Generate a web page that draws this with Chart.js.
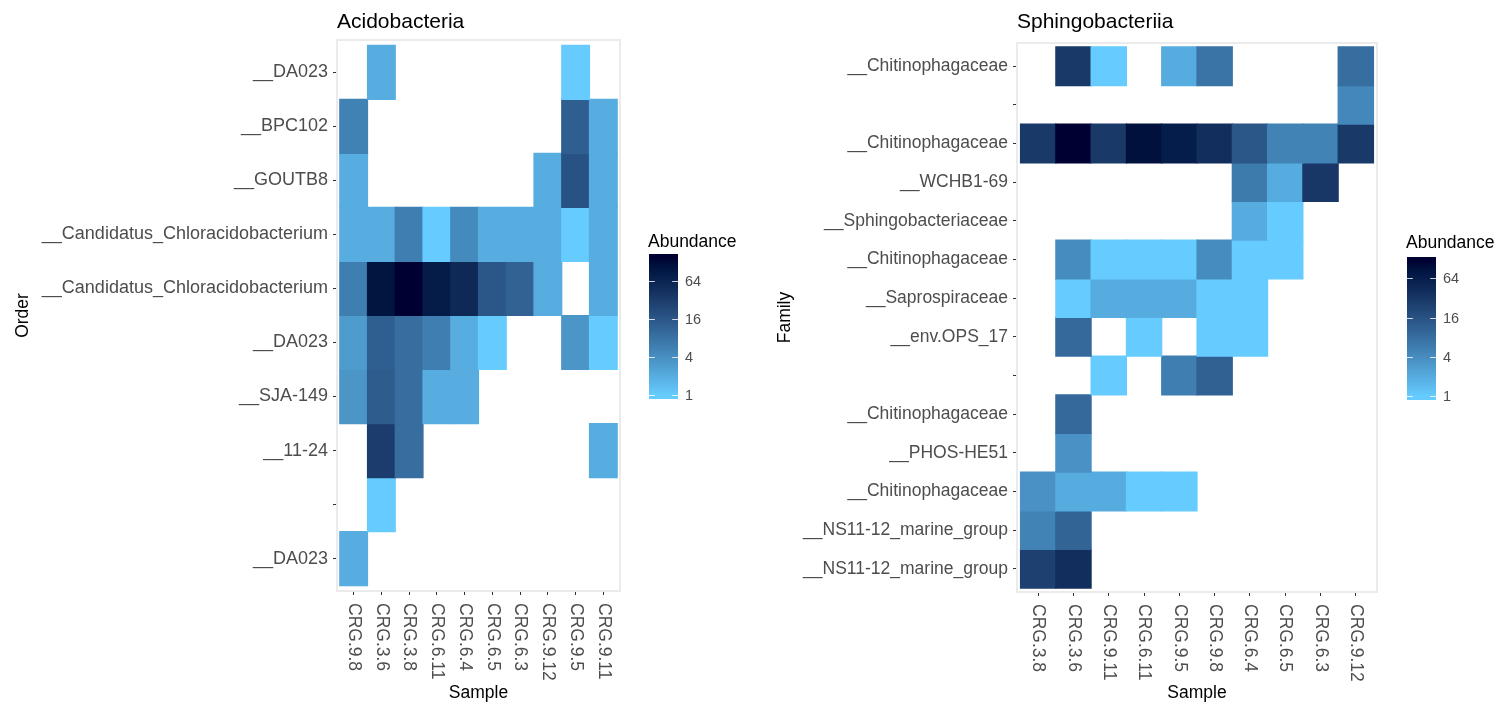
<!DOCTYPE html>
<html><head><meta charset="utf-8">
<script src="https://cdn.jsdelivr.net/npm/chart.js@4/dist/chart.umd.min.js"></script>
<style>
html,body{margin:0;padding:0;background:#fff;}
#wrap{position:relative;width:1506px;height:713px;overflow:hidden;}
canvas{position:absolute;top:0;}
</style>
</head><body>
<div id="wrap">
<canvas id="c1" width="753" height="713" style="left:0"></canvas>
<canvas id="c2" width="753" height="713" style="left:753px"></canvas>
</div>
<script>
// ---------------- data ----------------
const acidoSamples = ['CRG.9.8','CRG.3.6','CRG.3.8','CRG.6.11','CRG.6.4','CRG.6.5','CRG.6.3','CRG.9.12','CRG.9.5','CRG.9.11'];
const acidoOrders = ['__DA023','__BPC102','__GOUTB8','__Candidatus_Chloracidobacterium','__Candidatus_Chloracidobacterium','__DA023','__SJA-149','__11-24','','__DA023'];
const acidoAbundance = [
  [null, 2,   null, null, null, null, null, null, 1,    null],
  [5.5,  null,null, null, null, null, null, null, 13,   2   ],
  [2,    null,null, null, null, null, null, 2,    18,   2   ],
  [2,    2,   6,    1,    4.5,  2,    2,    2,    1,    2   ],
  [6,    100, 150,  80,   55,   16,   12,   2,    null, 2   ],
  [3,    13,  9,    6,    2,    1,    null, null, 3.5,  1   ],
  [3.5,  14,  9,    2,    2,    null, null, null, null, null],
  [null, 32,  9,    null, null, null, null, null, null, 2   ],
  [null, 1,   null, null, null, null, null, null, null, null],
  [2,    null,null, null, null, null, null, null, null, null]
];
const sphingoSamples = ['CRG.3.8','CRG.3.6','CRG.9.11','CRG.6.11','CRG.9.5','CRG.9.8','CRG.6.4','CRG.6.5','CRG.6.3','CRG.9.12'];
const sphingoFamilies = ['__Chitinophagaceae','','__Chitinophagaceae','__WCHB1-69','__Sphingobacteriaceae','__Chitinophagaceae','__Saprospiraceae','__env.OPS_17','','__Chitinophagaceae','__PHOS-HE51','__Chitinophagaceae','__NS11-12_marine_group','__NS11-12_marine_group'];
const sphingoAbundance = [
  [null, 30,  1,    null, 2,    7,    null, null, null, 8   ],
  [null, null,null, null, null, null, null, null, null, 4.5 ],
  [30,   120, 30,   90,   65,   40,   14,   5,    5,    30  ],
  [null, null,null, null, null, null, 6,    2,    32,   null],
  [null, null,null, null, null, null, 2,    1,    null, null],
  [null, 4,   1,    1,    1,    4,    1,    1,    null, null],
  [null, 1,   2,    2,    2,    1,    1,    null, null, null],
  [null, 9,   null, 1,    null, 1,    1,    null, null, null],
  [null, null,1,    null, 5.5,  11,   null, null, null, null],
  [null, 9,   null, null, null, null, null, null, null, null],
  [null, 3.5, null, null, null, null, null, null, null, null],
  [3.5,  2,   2,    1,    1,    null, null, null, null, null],
  [5,    10,  null, null, null, null, null, null, null, null],
  [25,   40,  null, null, null, null, null, null, null, null]
];
const legendBreaks = [1, 4, 16, 64];

// ---------------- colour (ggplot Lab gradient) ----------------
function hexToRgb(h){h=h.replace('#','');return [0,2,4].map(i=>parseInt(h.substr(i,2),16));}
function lin(c){c/=255;return c<=0.04045?c/12.92:Math.pow((c+0.055)/1.055,2.4);}
function delin(c){const v=c<=0.0031308?12.92*c:1.055*Math.pow(c,1/2.4)-0.055;return Math.round(Math.max(0,Math.min(1,v))*255);}
const WN=[0.95047,1,1.08883];
function rgbToLab(rgb){
  const [r,g,b]=rgb.map(lin);
  const X=(0.4124564*r+0.3575761*g+0.1804375*b)/WN[0];
  const Y=(0.2126729*r+0.7151522*g+0.0721750*b)/WN[1];
  const Z=(0.0193339*r+0.1191920*g+0.9503041*b)/WN[2];
  const f=t=>t>0.008856?Math.cbrt(t):7.787*t+16/116;
  const fx=f(X),fy=f(Y),fz=f(Z);
  return [116*fy-16,500*(fx-fy),200*(fy-fz)];
}
function labToRgb([L,a,b]){
  const fy=(L+16)/116,fx=fy+a/500,fz=fy-b/200;
  const fi=t=>{const t3=t*t*t;return t3>0.008856?t3:(t-16/116)/7.787;};
  const X=fi(fx)*WN[0],Y=fi(fy)*WN[1],Z=fi(fz)*WN[2];
  const r= 3.2404542*X-1.5371385*Y-0.4985314*Z;
  const g=-0.9692660*X+1.8760108*Y+0.0415560*Z;
  const bb=0.0556434*X-0.2040259*Y+1.0572252*Z;
  return [delin(r),delin(g),delin(bb)];
}
const LOW=rgbToLab(hexToRgb('#66CCFF')), HIGH=rgbToLab(hexToRgb('#000033'));
function colorAt(t){
  t=Math.max(0,Math.min(1,t));
  const lab=LOW.map((v,i)=>v+(HIGH[i]-v)*t);
  const c=labToRgb(lab);
  return `rgb(${c[0]},${c[1]},${c[2]})`;
}

// ---------------- chart factory ----------------
const FONT="'Liberation Sans', Arial, Helvetica, sans-serif";
Chart.defaults.font.family=FONT;

function makeHeatmap(canvas, cfg){
  const {title, samples, rows, values, yTitle, area, yTitlePad, legend} = cfg;
  const flat=values.flat().filter(v=>v!=null);
  const vmin=Math.min(...flat), vmax=Math.max(...flat);
  const tOf=v=>(Math.log(v)-Math.log(vmin))/(Math.log(vmax)-Math.log(vmin));
  const datasets=rows.map((name,r)=>({
    label: name || ' ',
    data: values[r].map((v,c)=>v==null?null:{x:c,y:[r-0.5,r+0.5],v:v}).filter(d=>d),
    backgroundColor: ctx=>ctx.raw?colorAt(tOf(ctx.raw.v)):'rgba(0,0,0,0)',
    borderWidth:0, borderSkipped:false, inflateAmount:0.6,
    grouped:false, barPercentage:1, categoryPercentage:1
  }));
  const W=canvas.width, H=canvas.height;

  const decor={
    id:'decor',
    beforeDatasetsDraw(chart){
      const {ctx,chartArea:a}=chart;
      ctx.save();ctx.strokeStyle='#EBEBEB';ctx.lineWidth=2;
      ctx.strokeRect(a.left,a.top,a.right-a.left,a.bottom-a.top);ctx.restore();
    },
    afterDraw(chart){
      const {ctx,chartArea:a}=chart;
      const xs=chart.scales.x;
      ctx.save();
      // panel title
      ctx.fillStyle='#000';ctx.font=`21px ${FONT}`;ctx.textAlign='left';ctx.textBaseline='alphabetic';
      ctx.fillText(title,a.left,28);
      // rotated x tick labels (reading downward)
      ctx.fillStyle='#4D4D4D';ctx.font=`17.5px ${FONT}`;ctx.textAlign='left';ctx.textBaseline='middle';
      samples.forEach((s,i)=>{
        const x=xs.getPixelForValue(i);
        ctx.save();ctx.translate(x,a.bottom+12);ctx.rotate(Math.PI/2);ctx.fillText(s,0,0);ctx.restore();
      });
      // colour bar legend
      const L=legend;
      ctx.fillStyle='#000';ctx.font=`17.5px ${FONT}`;ctx.textBaseline='alphabetic';
      ctx.fillText('Abundance',L.x-1,L.titleY);
      const half=L.h/40, inner=L.h-2*half, bottom=L.y+L.h;
      const yOf=v=>bottom-half-tOf(v)*inner;
      const grad=ctx.createLinearGradient(0,bottom,0,L.y);
      const n=40;
      for(let k=0;k<=n;k++){
        const f=k/n;
        const ym=bottom-f*L.h;
        grad.addColorStop(f,colorAt((bottom-half-ym)/inner));
      }
      ctx.fillStyle=grad;
      ctx.fillRect(L.x,L.y,L.w,L.h);
      ctx.strokeStyle='rgba(255,255,255,0.8)';ctx.lineWidth=1;
      ctx.fillStyle='#4D4D4D';ctx.font=`14.5px ${FONT}`;ctx.textBaseline='middle';ctx.textAlign='left';
      legendBreaks.forEach(b=>{
        if(b<vmin||b>vmax)return;
        const y=Math.round(yOf(b))+0.5;
        ctx.beginPath();
        ctx.moveTo(L.x,y);ctx.lineTo(L.x+L.w/5,y);
        ctx.moveTo(L.x+L.w-L.w/5,y);ctx.lineTo(L.x+L.w,y);
        ctx.stroke();
        ctx.fillText(String(b),L.x+L.w+7,y);
      });
      ctx.restore();
    }
  };

  return new Chart(canvas,{
    type:'bar',
    data:{datasets},
    options:{
      responsive:false, animation:false, events:[],
      layout:{padding:{top:area.top,left:0,right:W-area.right,bottom:0}},
      plugins:{legend:{display:false},tooltip:{enabled:false},title:{display:false}},
      scales:{
        x:{
          type:'linear', min:-0.6, max:samples.length-0.4, offset:false,
          afterBuildTicks:s=>{s.ticks=samples.map((_,i)=>({value:i}));},
          afterFit:s=>{s.height=H-area.bottom;},
          ticks:{display:false},
          grid:{display:true,offset:false,drawOnChartArea:false,drawTicks:true,tickLength:4,color:'#333333',lineWidth:1},
          border:{display:false},
          title:{display:true,text:'Sample',color:'#000',font:{size:17.5,family:FONT},padding:{top:0,bottom:9.5}}
        },
        y:{
          type:'linear', reverse:true, min:-0.6, max:rows.length-0.4,
          afterBuildTicks:s=>{s.ticks=rows.map((_,i)=>({value:i}));},
          afterFit:s=>{s.width=area.left;},
          ticks:{color:'#4D4D4D',font:{size:area.labelSize,family:FONT},padding:5,autoSkip:false,
                 callback:(v)=>{const r=rows[Math.round(v)];return r==null?'':r;}},
          grid:{display:true,offset:false,drawOnChartArea:false,drawTicks:true,tickLength:4,color:'#333333',lineWidth:1},
          border:{display:false},
          title:{display:true,text:yTitle,color:'#000',font:{size:17.5,family:FONT},padding:{top:yTitlePad,bottom:0}}
        }
      }
    },
    plugins:[decor]
  });
}

makeHeatmap(document.getElementById('c1'),{
  title:'Acidobacteria', samples:acidoSamples, rows:acidoOrders, values:acidoAbundance,
  yTitle:'Order', yTitlePad:12.5,
  area:{left:337,right:620,top:40,bottom:591,labelSize:18},
  legend:{x:649,y:254,w:29,h:145,titleY:247}
});
makeHeatmap(document.getElementById('c2'),{
  title:'Sphingobacteriia', samples:sphingoSamples, rows:sphingoFamilies, values:sphingoAbundance,
  yTitle:'Family', yTitlePad:21.5,
  area:{left:264,right:624,top:43,bottom:592,labelSize:17.5},
  legend:{x:654,y:257,w:29,h:143,titleY:248}
});
</script>
</body></html>
